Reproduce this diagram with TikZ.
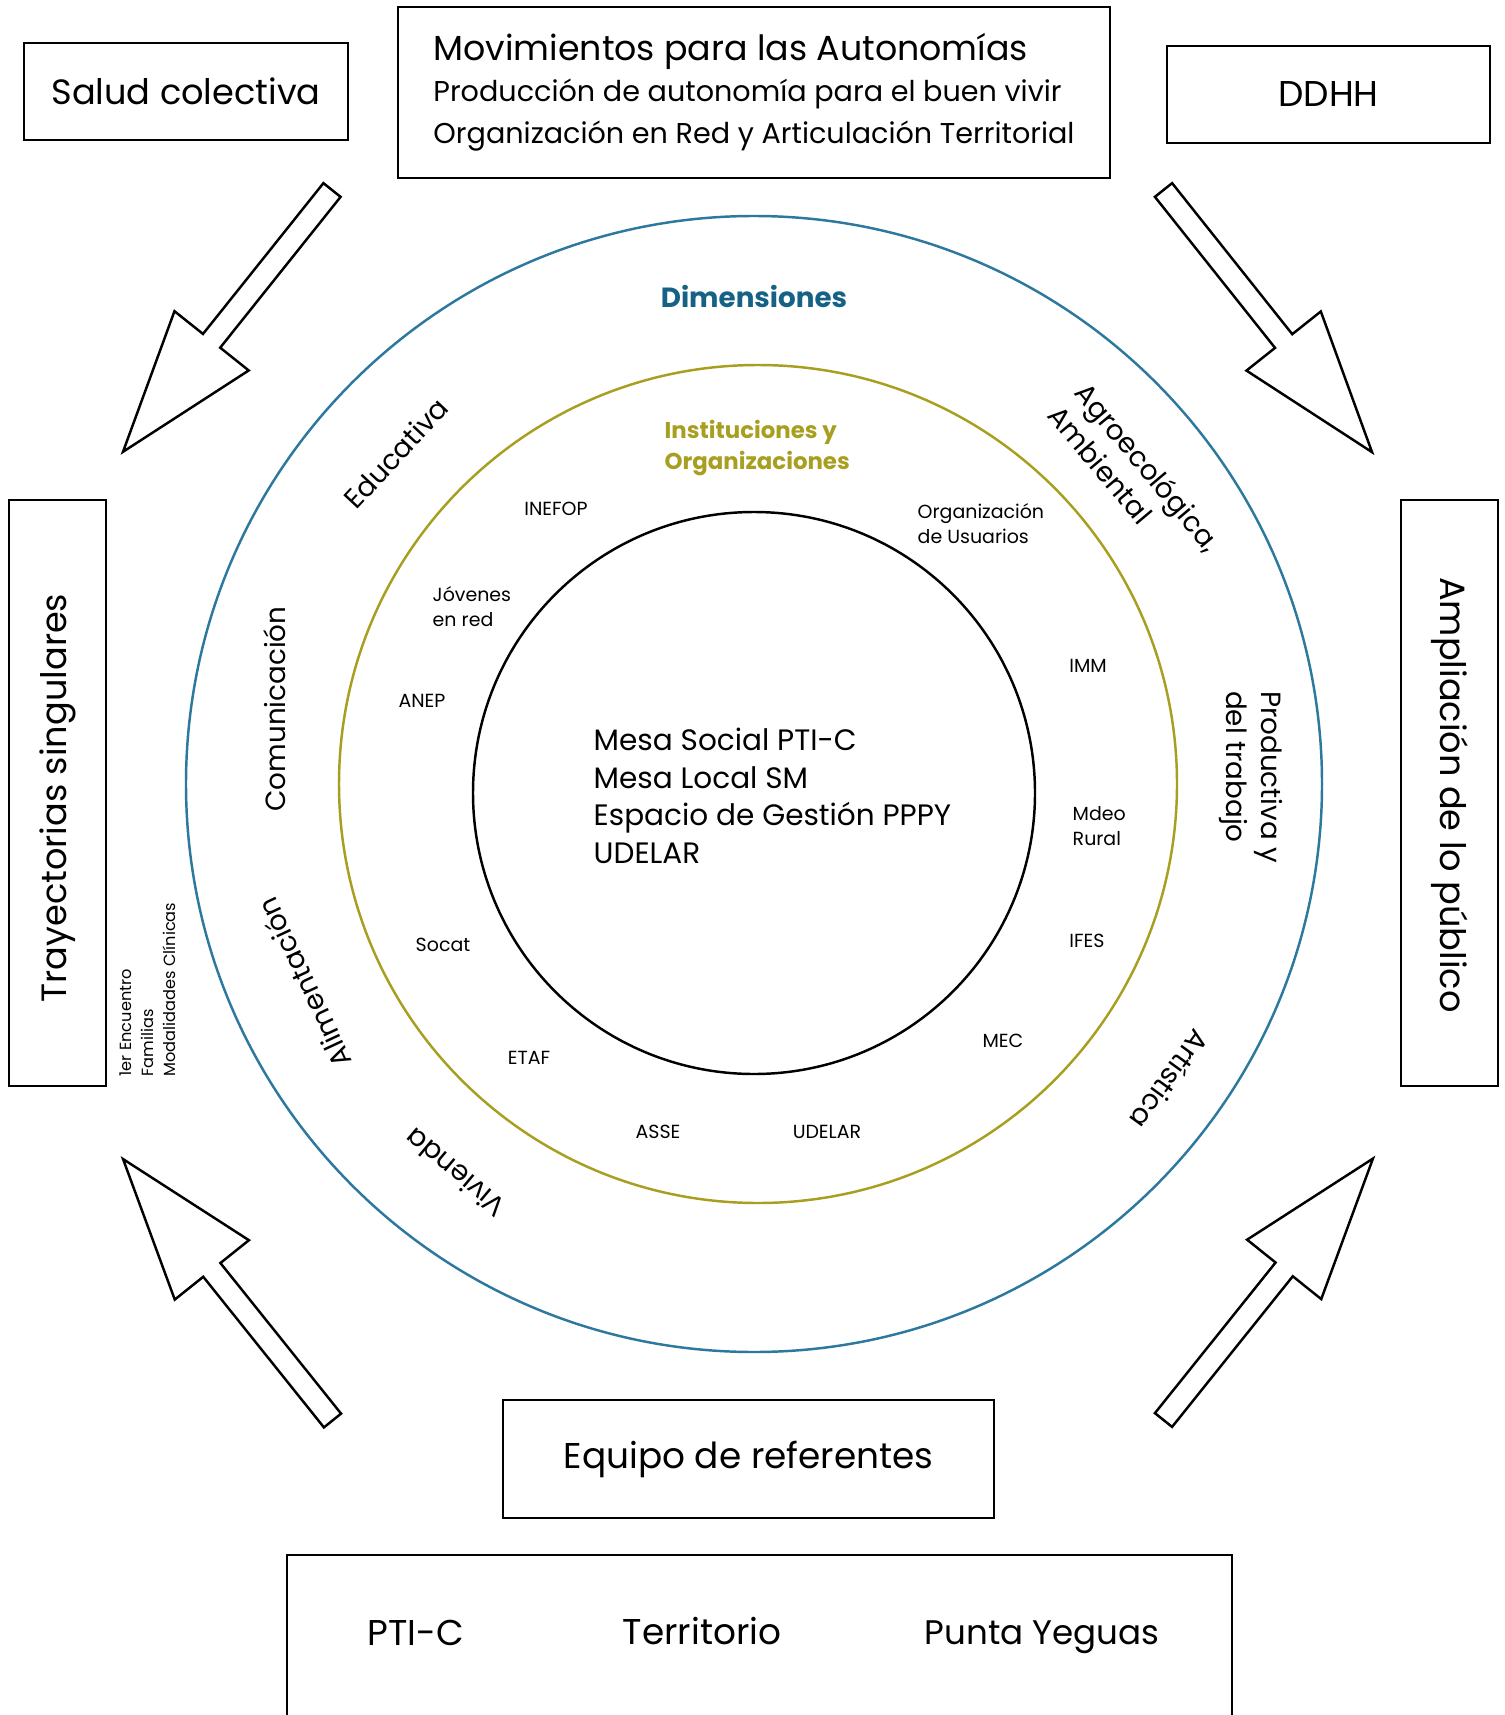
\documentclass[tikz,border=0pt]{standalone}
\usepackage{fontspec}
\setmainfont{Poppins}
\usepackage{tikz}

\definecolor{dimblue}{RGB}{22,98,134}
\definecolor{ringblue}{RGB}{45,120,158}
\definecolor{instolive}{RGB}{168,158,32}

\tikzset{
  framebox/.style={draw,line width=0.7pt,inner sep=0pt},
  bigtext/.style={font=\fontsize{10.2}{12.5}\selectfont},
  sidetext/.style={font=\fontsize{10}{12}\selectfont},
  midtext/.style={font=\fontsize{8.4}{10.7}\selectfont},
  dimtext/.style={font=\fontsize{7.9}{10}\selectfont,inner sep=0pt},
  insttext/.style={font=\fontsize{5.4}{7.1}\selectfont,inner sep=0pt,align=left},
  tinytext/.style={font=\fontsize{4.6}{6.3}\selectfont,inner sep=0pt,align=left},
  hollowarrow/.style={draw,line width=0.7pt,line join=miter,fill=white}
}

\begin{document}
\begin{tikzpicture}[x=1cm,y=1cm]
  \clip (0,0) rectangle (15.05,-17.15);
  \fill[white] (0,0) rectangle (15.05,-17.15);

  % top boxes
  \node[framebox,font=\fontsize{10}{12}\selectfont,minimum width=3.24cm,minimum height=0.97cm] (salud) at (1.86,-0.915) {Salud colectiva};
  \node[framebox,minimum width=7.12cm,minimum height=1.71cm,align=left] (movim) at (7.54,-0.925)
    {{\fontsize{9.9}{12}\selectfont Movimientos para las Autonomías}\\[-0.5pt]
     {\fontsize{8.15}{10.6}\selectfont Producción de autonomía para el buen vivir}\\
     {\fontsize{8.15}{10.6}\selectfont Organización en Red y Articulación Territorial}};
  \node[framebox,bigtext,minimum width=3.23cm,minimum height=0.97cm] (ddhh) at (13.285,-0.945) {DDHH};

  % side boxes
  \node[framebox,minimum width=0.97cm,minimum height=5.86cm] (trayec) at (0.575,-7.93) {};
  \node[sidetext,rotate=90] (trayectxt) at (0.58,-7.98) {Trayectorias singulares};
  \node[framebox,minimum width=0.97cm,minimum height=5.86cm] (amplia) at (14.495,-7.93) {};
  \node[sidetext,rotate=-90] (ampliatxt) at (14.50,-7.95) {Ampliación de lo público};
  \node[tinytext,rotate=90,anchor=west] (encuentro) at (1.48,-10.77)
    {1er Encuentro\\Familias\\Modalidades Clínicas};

  % bottom boxes
  \node[framebox,bigtext,minimum width=4.91cm,minimum height=1.18cm] (equipo) at (7.485,-14.59) {Equipo de referentes};
  \draw[line width=0.7pt] (2.87,-17.3) -- (2.87,-15.55) -- (12.32,-15.55) -- (12.32,-17.3);
  \node[bigtext,anchor=base] (ptic) at (4.16,-16.45) {PTI-C};
  \node[bigtext,anchor=base] (territorio) at (7.02,-16.44) {Territorio};
  \node[font=\fontsize{9.7}{12}\selectfont,anchor=base] (punta) at (10.42,-16.44) {Punta Yeguas};

  % rings
  \node[circle,draw=ringblue,line width=0.7pt,minimum size=11.36cm,inner sep=0pt] (outerring) at (7.54,-7.84) {};
  \node[circle,draw=instolive,line width=0.7pt,minimum size=8.38cm,inner sep=0pt] (midring) at (7.58,-7.84) {};
  \node[circle,draw,line width=0.7pt,minimum size=5.62cm,inner sep=0pt] (innerring) at (7.54,-7.93) {};

  % block arrows
  \foreach \tailx/\taily/\ang in {3.32/-1.90/-128.6,11.635/-1.90/-51.5,11.635/-14.20/51.3,3.325/-14.205/128.7}
    \draw[hollowarrow,shift={(\tailx,\taily)},rotate=\ang]
      (0,-0.11) -- (1.93,-0.11) -- (1.93,-0.475) -- (3.35,0) -- (1.93,0.475) -- (1.93,0.11) -- (0,0.11) -- cycle;

  % headings
  \node[font=\fontsize{7.9}{9.5}\selectfont\bfseries,text=dimblue] (dimtitle) at (7.54,-2.96) {Dimensiones};
  \node[font=\fontsize{6.5}{9}\selectfont\bfseries,text=instolive,align=left,anchor=west,inner sep=0pt] (insttitle) at (6.64,-4.48)
    {Instituciones y\\Organizaciones};

  % centre
  \node[midtext,align=left,anchor=west,inner sep=0pt] (mesas) at (5.93,-7.96)
    {Mesa Social PTI-C\\Mesa Local SM\\Espacio de Gestión PPPY\\UDELAR};

  % instituciones
  \node[insttext] (inefop) at (5.56,-5.09) {INEFOP};
  \node[insttext,anchor=west] (orgus) at (9.17,-5.235) {Organización\\de Usuarios};
  \node[insttext,anchor=west] (jovenes) at (4.32,-6.07) {Jóvenes\\en red};
  \node[insttext] (anep) at (4.22,-7.01) {ANEP};
  \node[insttext] (imm) at (10.88,-6.66) {IMM};
  \node[insttext,anchor=west] (mdeo) at (10.72,-8.265) {Mdeo\\Rural};
  \node[insttext] (ifes) at (10.87,-9.41) {IFES};
  \node[insttext] (socat) at (4.43,-9.45) {Socat};
  \node[insttext] (mec) at (10.03,-10.41) {MEC};
  \node[insttext] (etaf) at (5.29,-10.58) {ETAF};
  \node[insttext] (asse) at (6.58,-11.32) {ASSE};
  \node[insttext] (udelar) at (8.27,-11.32) {UDELAR};

  % dimensiones
  \node[dimtext,rotate=47] (educ) at (3.96,-4.53) {Educativa};
  \node[dimtext,rotate=90] (comun) at (2.75,-7.09) {Comunicación};
  \node[dimtext,rotate=115] (alim) at (3.04,-9.83) {Alimentación};
  \node[dimtext,rotate=140] (vivienda) at (4.55,-11.73) {Vivienda};
  \node[dimtext,rotate=-50,align=left] (agro) at (11.35,-4.78) {Agroecológica,\\Ambiental};
  \node[dimtext,rotate=-90,align=left] (product) at (12.51,-7.77) {Productiva y\\del trabajo};
  \node[dimtext,rotate=-126] (artis) at (11.70,-10.80) {Artística};
\end{tikzpicture}
\end{document}
